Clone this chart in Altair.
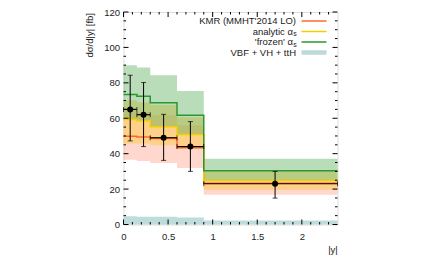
import altair as alt
import pandas as pd

# ---- data ----
edges = [0, 0.15, 0.3, 0.6, 0.9, 2.4]
frozen = [73.4, 72.4, 68.7, 61.7, 30.3]
frozen_hi = [90.0, 88.7, 84.3, 75.4, 37.2]
frozen_lo = [59.5, 58.7, 55.3, 50.5, 25.0]
analytic = [59.3, 58.6, 55.2, 50.8, 24.8]
analytic_hi = [70.2, 69.0, 67.5, 60.5, 30.3]
analytic_lo = [45.7, 45.7, 44.7, 42.8, 19.6]
kmr = [49.8, 49.4, 48.5, 43.4, 23.3]
kmr_hi = [64.5, 63.6, 61.7, 56.0, 25.3]
kmr_lo = [36.5, 35.8, 34.7, 31.9, 16.8]
vbf = [4.7, 4.4, 4.4, 4.0, 2.3]

data_x = [0.075, 0.225, 0.45, 0.75, 1.7]
data_y = [65, 62, 49, 44, 23]
data_hi = [84.3, 80.2, 62.2, 58.1, 30.0]
data_lo = [47.2, 44.0, 36.2, 30.0, 14.9]

x_labels = [0, 0.5, 1, 1.5, 2]
y_labels = [0, 20, 40, 60, 80, 100, 120]
x_minor = [round(0.1 * i, 1) for i in range(1, 24)]
y_minor = [5 * i for i in range(1, 24)]

legend_labels = ["KMR (MMHT'2014 LO)", "analytic \u03b1", "'frozen' \u03b1", "VBF + VH + ttH"]
legend_subs = ["", "s", "s", ""]

W, H = 214, 212.5
FONT = "Liberation Sans"

C_KMR = "#ff6a2a"
C_AN = "#f2cf00"
C_FR = "#2e962e"


def step(vals):
    return vals + [vals[-1]]


xs = alt.Scale(domain=[0, 2.4], nice=False, zero=False)
ys = alt.Scale(domain=[0, 120], nice=False, zero=False)

x_axis = alt.Axis(values=x_labels, format="~g", title=None, labelPadding=7)
y_axis = alt.Axis(values=y_labels, format="d", title=None, labelPadding=4)


def X(f):
    return alt.X(f, scale=xs, axis=x_axis)


def Y(f):
    return alt.Y(f, scale=ys, axis=y_axis)


def band(lo, hi, color, op):
    df = pd.DataFrame({"x": edges, "lo": step(lo), "hi": step(hi)})
    return alt.Chart(df).mark_area(
        interpolate="step-after", color=color, opacity=op
    ).encode(x=X("x:Q"), y=Y("lo:Q"), y2="hi:Q")


def sline(v, color, w=1.5):
    df = pd.DataFrame({"x": edges, "y": step(v)})
    return alt.Chart(df).mark_line(
        interpolate="step-after", color=color, strokeWidth=w
    ).encode(x=X("x:Q"), y=Y("y:Q"))


layers = []
layers.append(band([0] * 5, vbf, "#a9d0d0", 0.75))
layers.append(band(kmr_lo, kmr_hi, "#ff8a6a", 0.34))
layers.append(band(analytic_lo, analytic_hi, "#ffc733", 0.45))
layers.append(band(frozen_lo, frozen_hi, "#4fa84f", 0.4))
layers.append(sline(kmr, C_KMR))
layers.append(sline(analytic, C_AN))
layers.append(sline(frozen, C_FR))

pts = pd.DataFrame({
    "x": data_x, "y": data_y, "lo": data_lo, "hi": data_hi,
    "xl": edges[:-1], "xh": edges[1:],
})
base = alt.Chart(pts)
layers.append(base.mark_rule(color="black", strokeWidth=1).encode(
    x=X("x:Q"), y=Y("lo:Q"), y2="hi:Q"))
layers.append(base.mark_rule(color="black", strokeWidth=1.2).encode(
    x=X("xl:Q"), x2="xh:Q", y=Y("y:Q")))
for col in ["lo", "hi"]:
    layers.append(base.mark_tick(orient="horizontal", color="black", size=5, thickness=1).encode(
        x=X("x:Q"), y=Y(f"{col}:Q")))
for col in ["xl", "xh"]:
    layers.append(base.mark_tick(orient="vertical", color="black", size=5, thickness=1).encode(
        x=X(f"{col}:Q"), y=Y("y:Q")))
layers.append(base.mark_circle(color="black", opacity=1, size=36).encode(
    x=X("x:Q"), y=Y("y:Q")))


# ---- inward ticks on all four sides ----
def xticks(vals, ln):
    d = alt.Chart(pd.DataFrame({"t": vals}))
    return [
        d.mark_rule(color="black", strokeWidth=1).encode(
            x=X("t:Q"), y=alt.value(H), y2=alt.value(H - ln)),
        d.mark_rule(color="black", strokeWidth=1).encode(
            x=X("t:Q"), y=alt.value(0), y2=alt.value(ln)),
    ]


def yticks(vals, ln):
    d = alt.Chart(pd.DataFrame({"t": vals}))
    return [
        d.mark_rule(color="black", strokeWidth=1).encode(
            y=Y("t:Q"), x=alt.value(0), x2=alt.value(ln)),
        d.mark_rule(color="black", strokeWidth=1).encode(
            y=Y("t:Q"), x=alt.value(W), x2=alt.value(W - ln)),
    ]


layers += xticks(x_labels, 5) + xticks([t for t in x_minor if round(t * 2, 6) != int(t * 2)], 2.5)
layers += yticks(y_labels, 5) + yticks([t for t in y_minor if t % 20 != 0], 2.5)

# ---- legend ----
leg = pd.DataFrame({"label": legend_labels, "sub": legend_subs, "row": [0, 1, 2, 3]})
leg_y = {0: 9, 1: 19.5, 2: 30, 3: 40.5}
leg["yy"] = leg["row"].map(leg_y)
leg["xe"] = [172.5, 169.5, 169.5, 172.5]
lg = alt.Chart(leg)
layers.append(lg.mark_text(align="right", baseline="middle", font=FONT, fontSize=9.5, color="#222").encode(
    x=alt.X("xe:Q", scale=None), y=alt.Y("yy:Q", scale=None), text="label:N"))
layers.append(lg.mark_text(align="left", baseline="middle", font=FONT, fontSize=7, dy=2.5, dx=0.3, color="#222").encode(
    x=alt.X("xe:Q", scale=None), y=alt.Y("yy:Q", scale=None), text="sub:N"))

sw = pd.DataFrame({"row": [0, 1, 2], "c": [C_KMR, C_AN, C_FR]})
sw["yy"] = sw["row"].map(leg_y)
layers.append(alt.Chart(sw).mark_rule(strokeWidth=1.5).encode(
    x=alt.value(178), x2=alt.value(203), y=alt.Y("yy:Q", scale=None),
    color=alt.Color("c:N", scale=None)))
layers.append(alt.Chart(pd.DataFrame({"yy": [leg_y[3]]})).mark_rule(strokeWidth=4.5, color="#bcdada").encode(
    x=alt.value(178), x2=alt.value(203), y=alt.Y("yy:Q", scale=None)))

# ---- titles ----
layers.append(alt.Chart(pd.DataFrame({"t": ["d\u03c3/d|y| [fb]"]})).mark_text(
    angle=270, align="right", baseline="middle", font=FONT, fontSize=9.5, color="#222").encode(
    x=alt.value(-33.5), y=alt.value(1), text="t:N"))
layers.append(alt.Chart(pd.DataFrame({"t": ["|y|"]})).mark_text(
    align="center", baseline="middle", font=FONT, fontSize=9.5, color="#222").encode(
    x=alt.value(209.5), y=alt.value(238), text="t:N"))

chart = alt.layer(*layers).properties(
    width=W, height=H,
    autosize=alt.AutoSizeParams(type="none"),
    padding={"left": 115.5, "top": 4, "right": 85, "bottom": 33},
).configure_view(stroke="black", strokeWidth=1).configure(background="white").configure_axis(
    labelOverlap=False, labelFlush=False, domain=False, ticks=False, tickSize=0, grid=False,
    labelFont=FONT, labelFontSize=9.5, labelColor="#222"
)

chart.save("out.html", embed_options={"renderer": "svg", "actions": False})
